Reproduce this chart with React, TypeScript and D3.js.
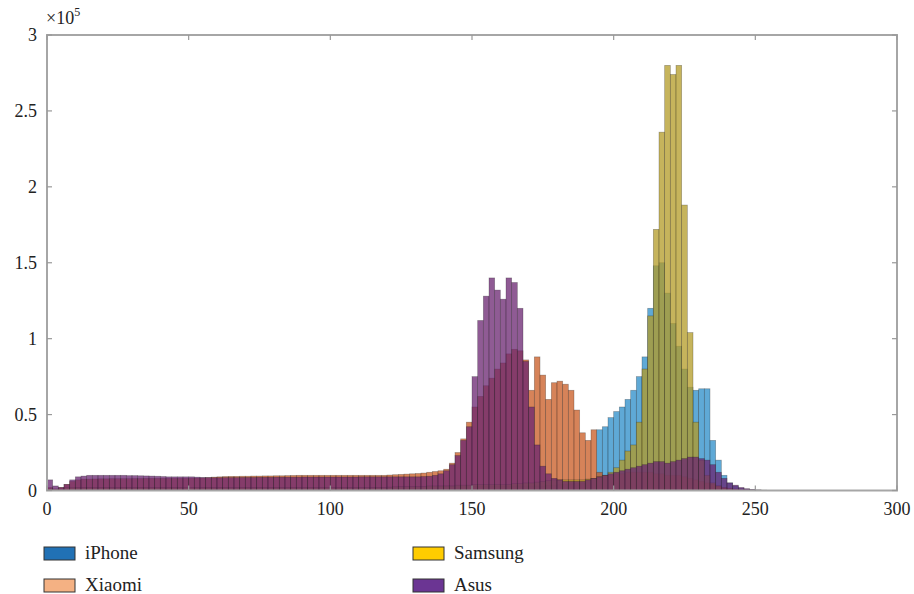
import React, { useEffect, useRef } from "react";
import * as d3 from "d3";

// histogram bins: start value of each bin (width 2), counts in units of 1e5
const binStarts = d3.range(0, 256, 2);
const binWidth = 2;

const iPhone = [
  0.01, 0.005, 0.01, 0.01, 0.015, 0.02, 0.02, 0.02, 0.02, 0.02, 0.02, 0.02, 0.02, 0.02, 0.02, 0.02,
  0.02, 0.02, 0.02, 0.02, 0.02, 0.02, 0.02, 0.02, 0.02, 0.02, 0.02, 0.02, 0.02, 0.02, 0.02, 0.02,
  0.02, 0.02, 0.02, 0.02, 0.02, 0.02, 0.02, 0.02, 0.02, 0.02, 0.02, 0.02, 0.02, 0.02, 0.02, 0.02,
  0.02, 0.02, 0.02, 0.02, 0.02, 0.02, 0.02, 0.02, 0.02, 0.02, 0.02, 0.02, 0.022, 0.024, 0.025, 0.025,
  0.025, 0.025, 0.026, 0.027, 0.028, 0.029, 0.03, 0.03, 0.03, 0.03, 0.03, 0.03, 0.03, 0.03, 0.03, 0.03,
  0.03, 0.03, 0.03, 0.03, 0.03, 0.03, 0.03, 0.03, 0.035, 0.035, 0.04, 0.04, 0.045, 0.05, 0.05, 0.06,
  0.08, 0.4, 0.42, 0.48, 0.52, 0.55, 0.6, 0.66, 0.75, 0.88, 1.2, 1.48, 1.5, 1.3, 1.1, 0.95,
  0.8, 0.68, 0.66, 0.67, 0.67, 0.33, 0.2, 0.1, 0.05, 0.03, 0.015, 0.008, 0.004, 0.002, 0.001, 0,
];

const xiaomi = [
  0.02, 0.01, 0.02, 0.04, 0.06, 0.07, 0.075, 0.075, 0.076, 0.077, 0.077, 0.078, 0.078, 0.078, 0.078, 0.079,
  0.079, 0.08, 0.08, 0.08, 0.08, 0.08, 0.08, 0.08, 0.08, 0.081, 0.082, 0.083, 0.085, 0.088, 0.09, 0.092,
  0.093, 0.093, 0.094, 0.094, 0.095, 0.095, 0.096, 0.096, 0.097, 0.097, 0.098, 0.099, 0.1, 0.1, 0.1, 0.1,
  0.1, 0.1, 0.1, 0.1, 0.1, 0.1, 0.1, 0.1, 0.1, 0.1, 0.1, 0.1, 0.102, 0.104, 0.106, 0.108,
  0.11, 0.112, 0.115, 0.12, 0.125, 0.13, 0.14, 0.18, 0.25, 0.34, 0.45, 0.55, 0.62, 0.69, 0.74, 0.8,
  0.84, 0.9, 0.93, 0.92, 0.86, 0.66, 0.88, 0.76, 0.6, 0.71, 0.72, 0.7, 0.66, 0.53, 0.38, 0.33,
  0.4, 0.12, 0.1, 0.1, 0.11, 0.11, 0.12, 0.12, 0.12, 0.12, 0.12, 0.11, 0.11, 0.1, 0.1, 0.1,
  0.09, 0.08, 0.07, 0.06, 0.05, 0.04, 0.03, 0.02, 0.015, 0.01, 0.007, 0.005, 0.003, 0.002, 0.001, 0,
];

const samsung = [
  0.01, 0.01, 0.01, 0.02, 0.02, 0.02, 0.02, 0.02, 0.02, 0.02, 0.02, 0.02, 0.02, 0.02, 0.02, 0.02,
  0.02, 0.02, 0.02, 0.02, 0.02, 0.02, 0.02, 0.02, 0.02, 0.02, 0.02, 0.02, 0.02, 0.02, 0.02, 0.02,
  0.02, 0.02, 0.02, 0.02, 0.02, 0.02, 0.02, 0.02, 0.02, 0.02, 0.02, 0.02, 0.02, 0.02, 0.02, 0.02,
  0.02, 0.02, 0.02, 0.02, 0.02, 0.02, 0.02, 0.02, 0.02, 0.02, 0.02, 0.02, 0.022, 0.024, 0.025, 0.025,
  0.025, 0.025, 0.025, 0.03, 0.03, 0.03, 0.03, 0.03, 0.035, 0.035, 0.035, 0.04, 0.04, 0.04, 0.04, 0.04,
  0.04, 0.04, 0.045, 0.045, 0.05, 0.05, 0.055, 0.06, 0.065, 0.07, 0.07, 0.07, 0.07, 0.07, 0.07, 0.075,
  0.08, 0.09, 0.1, 0.12, 0.15, 0.2, 0.26, 0.3, 0.45, 0.8, 1.15, 1.72, 2.36, 2.8, 2.74, 2.8,
  1.88, 1.04, 0.45, 0.2, 0.1, 0.05, 0.03, 0.015, 0.008, 0.004, 0.002, 0.001, 0, 0, 0, 0,
];

const asus = [
  0.07, 0.03, 0.02, 0.04, 0.07, 0.09, 0.095, 0.1, 0.1, 0.1, 0.1, 0.1, 0.1, 0.1, 0.098, 0.098,
  0.097, 0.096, 0.095, 0.094, 0.092, 0.09, 0.09, 0.09, 0.09, 0.09, 0.088, 0.086, 0.085, 0.084, 0.084, 0.085,
  0.085, 0.085, 0.086, 0.086, 0.086, 0.087, 0.087, 0.087, 0.088, 0.088, 0.088, 0.088, 0.088, 0.089, 0.089, 0.089,
  0.089, 0.089, 0.089, 0.089, 0.089, 0.089, 0.089, 0.09, 0.09, 0.09, 0.09, 0.09, 0.09, 0.09, 0.09, 0.09,
  0.09, 0.09, 0.092, 0.094, 0.1, 0.11, 0.13, 0.17, 0.23, 0.33, 0.42, 0.75, 1.12, 1.28, 1.4, 1.32,
  1.26, 1.4, 1.37, 1.2, 0.85, 0.55, 0.3, 0.16, 0.11, 0.08, 0.07, 0.06, 0.06, 0.06, 0.06, 0.07,
  0.08, 0.09, 0.1, 0.11, 0.12, 0.13, 0.14, 0.15, 0.16, 0.17, 0.18, 0.19, 0.19, 0.18, 0.19, 0.2,
  0.21, 0.22, 0.22, 0.21, 0.2, 0.17, 0.12, 0.08, 0.05, 0.035, 0.02, 0.012, 0.007, 0.004, 0.002, 0.001,
];

const seriesNames = ["iPhone", "Xiaomi", "Samsung", "Asus"];
const seriesValues = [iPhone, xiaomi, samsung, asus];

const xTicks = [0, 50, 100, 150, 200, 250, 300];
const yTicks = [0, 0.5, 1, 1.5, 2, 2.5, 3];

export default function App() {
  const ref = useRef<SVGSVGElement>(null);

  useEffect(() => {
    const width = 914;
    const height = 594;
    const plot = { left: 47, right: 897, top: 35, bottom: 490.5 };
    const font = "'Liberation Serif', 'Times New Roman', serif";

    // bar fills as they sit in the plot, legend fills as in the legend box
    const barColors: Record<string, string> = {
      iPhone: "#2a8cc8",
      Xiaomi: "#c85a22",
      Samsung: "#b39b25",
      Asus: "#6a2470",
    };
    const legendColors: Record<string, string> = {
      iPhone: "#2171b5",
      Xiaomi: "#f4b183",
      Samsung: "#ffcc00",
      Asus: "#6b3593",
    };

    const svg = d3.select(ref.current);
    svg.selectAll("*").remove();
    svg.attr("width", width).attr("height", height);

    svg.append("rect").attr("width", width).attr("height", height).attr("fill", "#fff");

    const x = d3.scaleLinear().domain([0, 300]).range([plot.left, plot.right]);
    const y = d3.scaleLinear().domain([0, 3]).range([plot.bottom, plot.top]);

    // overlaid histograms, drawn in series order
    seriesNames.forEach((name, si) => {
      const vals = seriesValues[si];
      svg.append("g")
        .selectAll("rect")
        .data(binStarts.map((b, i) => ({ b, v: vals[i] })).filter(d => d.v > 0))
        .enter()
        .append("rect")
        .attr("x", d => x(d.b))
        .attr("y", d => y(d.v))
        .attr("width", x(binWidth) - x(0))
        .attr("height", d => y(0) - y(d.v))
        .attr("fill", barColors[name])
        .attr("fill-opacity", 0.75)
        .attr("stroke", "#1a1a1a")
        .attr("stroke-opacity", 0.35)
        .attr("stroke-width", 0.7);
    });

    // axes box
    svg.append("rect")
      .attr("x", plot.left)
      .attr("y", plot.top)
      .attr("width", plot.right - plot.left)
      .attr("height", plot.bottom - plot.top)
      .attr("fill", "none")
      .attr("stroke", "#a6a6a6")
      .attr("stroke-width", 2);

    const tickLen = 5;
    const ticks = svg.append("g").attr("stroke", "#999").attr("stroke-width", 1.2);
    xTicks.forEach(t => {
      ticks.append("line").attr("x1", x(t)).attr("x2", x(t)).attr("y1", plot.bottom).attr("y2", plot.bottom - tickLen);
      ticks.append("line").attr("x1", x(t)).attr("x2", x(t)).attr("y1", plot.top).attr("y2", plot.top + tickLen);
    });
    yTicks.forEach(t => {
      ticks.append("line").attr("x1", plot.left).attr("x2", plot.left + tickLen).attr("y1", y(t)).attr("y2", y(t));
      ticks.append("line").attr("x1", plot.right).attr("x2", plot.right - tickLen).attr("y1", y(t)).attr("y2", y(t));
    });

    svg.append("g")
      .selectAll("text")
      .data(xTicks)
      .enter()
      .append("text")
      .attr("x", d => x(d))
      .attr("y", 515)
      .attr("text-anchor", "middle")
      .style("font-family", font)
      .style("font-size", "18px")
      .style("fill", "#222")
      .text(d => String(d));

    svg.append("g")
      .selectAll("text")
      .data(yTicks)
      .enter()
      .append("text")
      .attr("x", 37)
      .attr("y", d => y(d) + 6)
      .attr("text-anchor", "end")
      .style("font-family", font)
      .style("font-size", "18px")
      .style("fill", "#222")
      .text(d => String(d));

    const exp = svg.append("text")
      .attr("x", 46)
      .attr("y", 24)
      .style("font-family", font)
      .style("font-size", "18px")
      .style("fill", "#222");
    exp.append("tspan").text("×10");
    exp.append("tspan").attr("dy", -8).style("font-size", "12px").text("5");

    // legend, two columns
    const legendItems = [
      { name: "iPhone", col: 0, row: 0 },
      { name: "Xiaomi", col: 0, row: 1 },
      { name: "Samsung", col: 1, row: 0 },
      { name: "Asus", col: 1, row: 1 },
    ];
    legendItems.forEach(item => {
      const g = svg.append("g")
        .attr("transform", `translate(${44 + item.col * 369},${547 + item.row * 32})`);
      g.append("rect")
        .attr("width", 31)
        .attr("height", 13)
        .attr("fill", legendColors[item.name])
        .attr("stroke", "#333")
        .attr("stroke-width", 1);
      g.append("text")
        .attr("x", 41)
        .attr("y", 12)
        .style("font-family", font)
        .style("font-size", "19px")
        .style("fill", "#222")
        .text(item.name);
    });
  }, []);

  return (
    <svg ref={ref} style={{ position: "absolute", left: 0, top: 0, width: 914, height: 594 }} />
  );
}
